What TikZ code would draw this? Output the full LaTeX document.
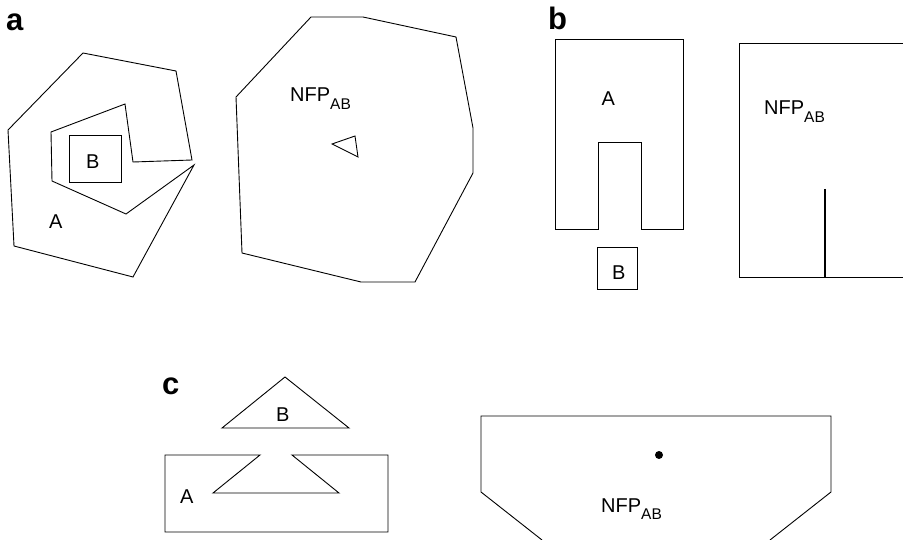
\documentclass[tikz,border=0pt]{standalone}
\usepackage{fontspec}
\setmainfont{Liberation Sans}
\newcommand{\nfpab}{{\fontsize{20}{20}\selectfont NFP\raisebox{-7.5pt}{\fontsize{15.5}{15.5}\selectfont AB}}}
\begin{document}
\begin{tikzpicture}[x=1pt,y=-1pt,
  outline/.style={draw=black,line width=0.9pt,line join=miter},
  lbl/.style={inner sep=0pt,anchor=base west,font=\fontsize{20}{20}\selectfont},
  panel/.style={inner sep=0pt,anchor=base west,font=\fontsize{31}{31}\selectfont\bfseries}]
\useasboundingbox (0,0) rectangle (903,540);

% ---- panel a: spiral polygon A with box B, and its NFP ----
\node[panel] (pa) at (6,31) {a};
\draw[outline] (8,130) -- (83,53) -- (176,71) -- (192,160) -- (133,162) -- (125,104)
  -- (51,132) -- (52,181) -- (126,214) -- (194,165) -- (133,277) -- (14,246) -- cycle;
\draw[outline] (69,135) rectangle (121,182);
\node[lbl] (aB) at (86,168.5) {B};
\node[lbl] (aA) at (49,228.5) {A};

\draw[outline] (236,97) -- (311,17) -- (363,17) -- (456,37) -- (473,128) -- (473,173)
  -- (415,282) -- (361,282) -- (242,253) -- cycle;
\draw[outline] (332,144) -- (355,136) -- (358,157) -- cycle;
\node[lbl] (aN) at (290,102) {\nfpab};

% ---- panel b: U-shaped A with box B, and its NFP ----
\node[panel] (pb) at (548,29.5) {b};
\draw[outline] (555,39) -- (683,39) -- (683,229) -- (641,229) -- (641,142) -- (598,142)
  -- (598,229) -- (555,229) -- cycle;
\draw[outline] (597,247) rectangle (637,289);
\node[lbl] (bA) at (601.5,106) {A};
\node[lbl] (bB) at (612,279.5) {B};

\draw[outline] (903,43) -- (739,43) -- (739,277) -- (903,277);
\draw[line width=1.8pt] (825,189) -- (825,277);
\node[lbl] (bN) at (764,115) {\nfpab};

% ---- panel c: rectangle A with V-notch, triangle B, and its NFP ----
\node[panel] (pc) at (162,394.5) {c};
\draw[outline] (222,428) -- (285,377) -- (349,428) -- cycle;
\node[lbl] (cB) at (276,421) {B};
\draw[outline] (165,455) -- (260,455) -- (213,493) -- (339,493) -- (292,455) -- (388,455)
  -- (388,532) -- (165,532) -- cycle;
\node[lbl] (cA) at (180,503.5) {A};

\draw[outline] (542,540) -- (481,492) -- (481,416) -- (831,416) -- (831,492) -- (770,540);
\fill (659,455) circle (4);
\node[lbl] (cN) at (601,512) {\nfpab};
\end{tikzpicture}
\end{document}
